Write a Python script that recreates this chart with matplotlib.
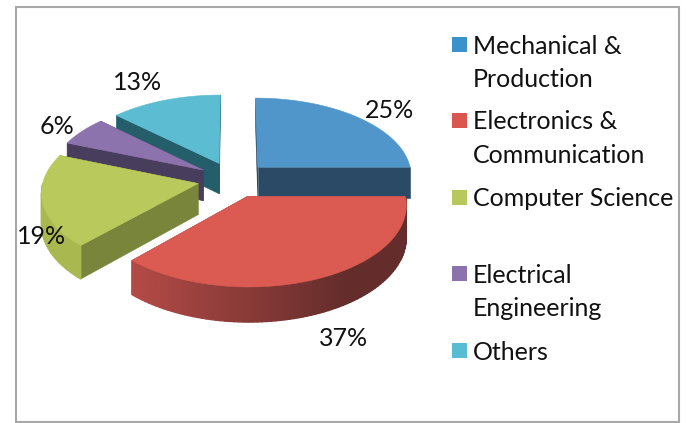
import numpy as np
import matplotlib
matplotlib.use("Agg")
import matplotlib.pyplot as plt
from matplotlib.collections import PolyCollection
from matplotlib.colors import to_rgb
from matplotlib.patches import Rectangle, Polygon

categories = ["Mechanical &\nProduction", "Electronics &\nCommunication", "Computer Science",
              "Electrical\nEngineering", "Others"]
shares = [25, 37, 19, 6, 13]
share_labels = ["25%", "37%", "19%", "6%", "13%"]

top_colors = ["#5096cb", "#db5a52", "#b9c95c", "#8d73ad", "#5bbcd2"]
legend_colors = ["#3b92cb", "#d9574f", "#b8c85c", "#8b72ad", "#58bcd3"]
wall_colors = ["#2a4a66", "#8a3a38", "#7a853c", "#483d5c", "#255e6b"]
rim_dark = ["#2a4a66", "#642d2b", "#aab850", "#483d5c", "#255e6b"]
rim_light = ["#3d6f96", "#b84c48", "#aab850", "#6a5a88", "#3c8fa0"]

CX, CY, F, G, K, DEPTH, EXPLODE = 233, 179.6, 154.7, 78.1, 0.098, 31, 0.23
label_xy = [(389, 111), (344, 339), (42, 236), (57, 127), (138, 83)]
legend_y = [63, 138.5, 199, 292, 352.5]
draw_order = [4, 3, 0, 2, 1]

plt.rcParams["font.family"] = ["Lato", "DejaVu Sans"]
fig = plt.figure(figsize=(6.86, 4.23), dpi=100)
ax = fig.add_axes([0, 0, 1, 1])
ax.set_xlim(0, 686)
ax.set_ylim(423, 0)
ax.axis("off")


def project(X, Y, z=0.0):
    s = 1.0 / (1.0 + K * Y)
    return np.column_stack([CX + X * F * s, CY - Y * G * s + z * DEPTH * s])


edges = np.cumsum([0] + shares) / sum(shares) * 2 * np.pi
for i in draw_order:
    a0, a1 = edges[i], edges[i + 1]
    mid = (a0 + a1) / 2
    ox, oy = EXPLODE * np.sin(mid), EXPLODE * np.cos(mid)
    t = np.linspace(a0, a1, max(6, int(np.degrees(a1 - a0) / 1.5)))
    rx, ry = ox + np.sin(t), oy + np.cos(t)
    top, bot = project(rx, ry), project(rx, ry, 1)
    # radial walls
    for a in (a0, a1):
        gx = np.array([ox, ox + np.sin(a)])
        gy = np.array([oy, oy + np.cos(a)])
        wt, wb = project(gx, gy), project(gx, gy, 1)
        ax.add_patch(Polygon(np.vstack([wt, wb[::-1]]), closed=True,
                             fc=wall_colors[i], ec=wall_colors[i], lw=0.4))
    # outer rim: only the part turned towards the viewer, lit left to dark right
    light, dark = np.array(to_rgb(rim_light[i])), np.array(to_rgb(rim_dark[i]))
    quads, cols = [], []
    for j in range(len(t) - 1):
        tm = (t[j] + t[j + 1]) / 2
        if np.cos(tm) < 0:
            w = np.clip((np.sin(tm) + 0.75) / 1.3, 0, 1)
            quads.append([top[j], top[j + 1], bot[j + 1], bot[j]])
            cols.append(light * (1 - w) + dark * w)
    if quads:
        ax.add_collection(PolyCollection(quads, facecolors=cols, edgecolors=cols, linewidths=0.9))
    # top face
    ax.add_patch(Polygon(np.vstack([project(np.array([ox]), np.array([oy])), top]), closed=True,
                         fc=top_colors[i], ec=top_colors[i], lw=0.4))

for (x, y), s in zip(label_xy, share_labels):
    ax.text(x, y, s, ha="center", va="center", fontsize=18, color="#111111")

for name, col, y in zip(categories, legend_colors, legend_y):
    first_y = y - (18 if "\n" in name else 1.5)
    ax.add_patch(Rectangle((452, first_y - 7.5), 14.5, 15, fc=col, ec="none"))
    ax.text(473, y, name, ha="left", va="center", fontsize=18, color="#111111", linespacing=1.56)

ax.add_patch(Rectangle((15.5, 7), 663.5, 415, fc="none", ec="#a8a8a8", lw=1.5))
fig.savefig("out.png", dpi=100, facecolor="white")
